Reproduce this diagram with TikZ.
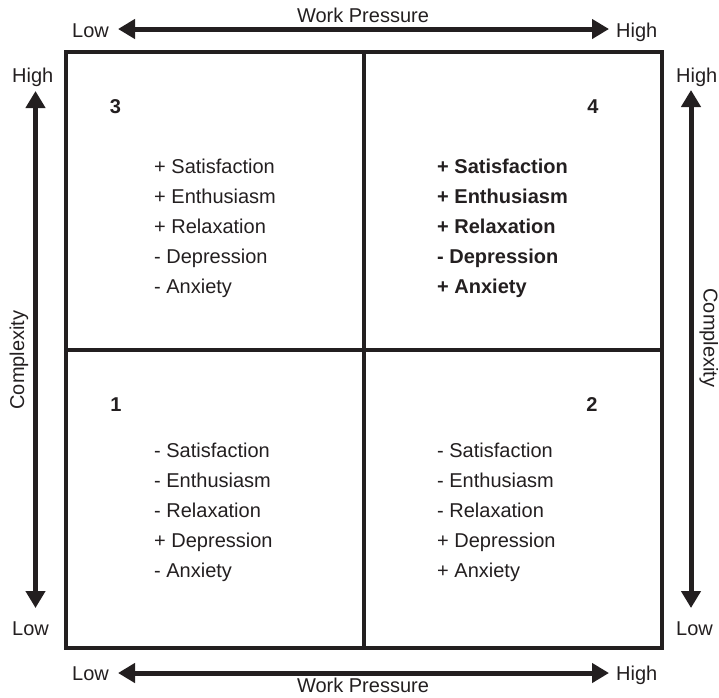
\documentclass[tikz,border=0pt]{standalone}
\usepackage{fontspec}
\setmainfont{Liberation Sans}
\usetikzlibrary{arrows.meta}
\definecolor{ink}{RGB}{35,31,32}
\begin{document}
\begin{tikzpicture}[x=1pt,y=-1pt,
  every node/.style={inner sep=0pt, text=ink, font=\fontsize{20}{24}\selectfont},
  boxline/.style={draw=ink, line width=4.6pt},
  axisarrow/.style={draw=ink, line width=5pt, {Triangle[length=17pt,width=19pt]}-{Triangle[length=17pt,width=19pt]}},
  item/.style={anchor=base west},
  bolditem/.style={anchor=base west, font=\fontsize{20}{24}\selectfont\bfseries},
  qnum/.style={anchor=base, font=\fontsize{20}{24}\selectfont\bfseries},
  lbl/.style={anchor=base west}
]
\useasboundingbox (0,0) rectangle (719,697);
% box
\coordinate (tl) at (66,52);
\coordinate (br) at (662,648);
\coordinate (mt) at (364,52);
\coordinate (mb) at (364,648);
\coordinate (ml) at (66,350);
\coordinate (mr) at (662,350);
\draw[boxline, line join=miter] (tl) rectangle (br);
\draw[boxline] (mt) -- (mb);
\draw[boxline] (ml) -- (mr);
% arrows
\coordinate (tA) at (118,29); \coordinate (tB) at (609,29);
\coordinate (bA) at (118,673); \coordinate (bB) at (609,673);
\coordinate (lA) at (35.5,91); \coordinate (lB) at (35.5,608);
\coordinate (rA) at (691,90); \coordinate (rB) at (691,608);
\draw[axisarrow] (tA) -- (tB);
\draw[axisarrow] (bA) -- (bB);
\draw[axisarrow] (lA) -- (lB);
\draw[axisarrow] (rA) -- (rB);
% axis labels
\node[lbl] (tlow) at (72,37) {Low};
\node[lbl] (thigh) at (616,37) {High};
\node[anchor=base] (twp) at (363,22) {Work Pressure};
\node[lbl] (blow) at (72,680) {Low};
\node[lbl] (bhigh) at (616,680) {High};
\node[anchor=base] (bwp) at (363,692.5) {Work Pressure};
\node[lbl] (lhigh) at (12,82) {High};
\node[lbl] (llow) at (12,635) {Low};
\node[lbl] (rhigh) at (676,82) {High};
\node[lbl] (rlow) at (676,635) {Low};
\node[anchor=base, rotate=90] (lcx) at (24,360) {Complexity};
\node[anchor=base, rotate=-90] (rcx) at (703.5,338) {Complexity};
% quadrant numbers
\node[qnum] (n3) at (115.5,113) {3};
\node[qnum] (n4) at (593,113) {4};
\node[qnum] (n1) at (116,411) {1};
\node[qnum] (n2) at (592,411) {2};
% quadrant 3
\node[item] (q3a) at (154,173) {+ Satisfaction};
\node[item] (q3b) at (154,203) {+ Enthusiasm};
\node[item] (q3c) at (154,233) {+ Relaxation};
\node[item] (q3d) at (154,263) {- Depression};
\node[item] (q3e) at (154,293) {- Anxiety};
% quadrant 4
\node[bolditem] (q4a) at (437,173) {+ Satisfaction};
\node[bolditem] (q4b) at (437,203) {+ Enthusiasm};
\node[bolditem] (q4c) at (437,233) {+ Relaxation};
\node[bolditem] (q4d) at (437,263) {- Depression};
\node[bolditem] (q4e) at (437,293) {+ Anxiety};
% quadrant 1
\node[item] (q1a) at (154,457) {- Satisfaction};
\node[item] (q1b) at (154,487) {- Enthusiasm};
\node[item] (q1c) at (154,517) {- Relaxation};
\node[item] (q1d) at (154,547) {+ Depression};
\node[item] (q1e) at (154,577) {- Anxiety};
% quadrant 2
\node[item] (q2a) at (437,457) {- Satisfaction};
\node[item] (q2b) at (437,487) {- Enthusiasm};
\node[item] (q2c) at (437,517) {- Relaxation};
\node[item] (q2d) at (437,547) {+ Depression};
\node[item] (q2e) at (437,577) {+ Anxiety};
\end{tikzpicture}
\end{document}
